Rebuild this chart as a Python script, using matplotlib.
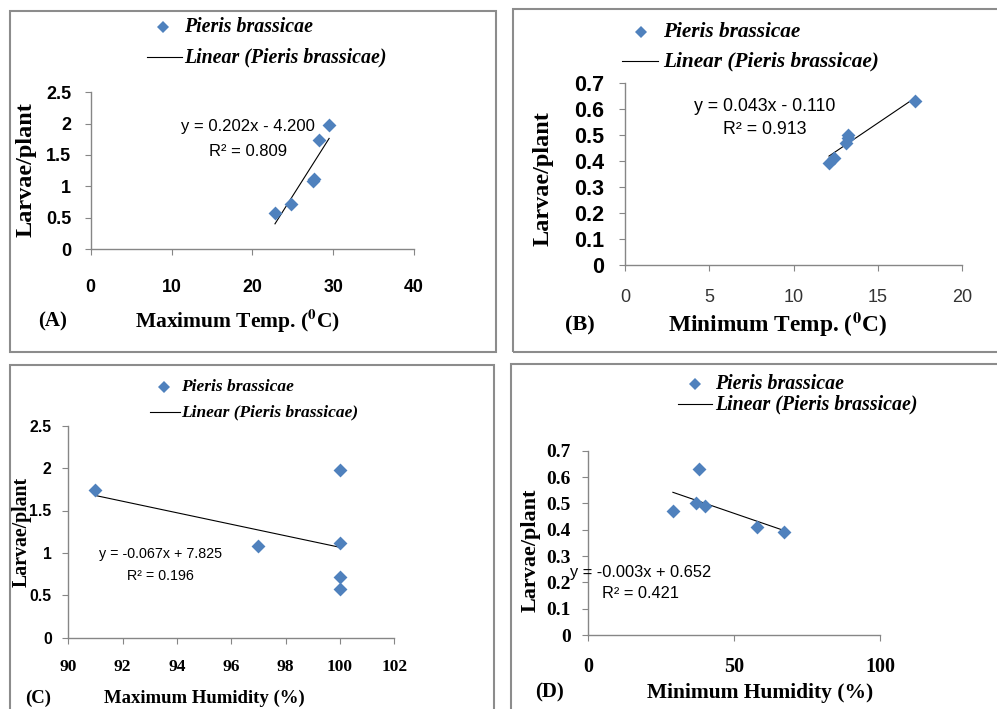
import numpy as np
import matplotlib
matplotlib.use('Agg')
import matplotlib.pyplot as plt
from matplotlib.lines import Line2D
from matplotlib.patches import Rectangle

# dados
max_temp = [22.8, 24.8, 27.5, 27.6, 28.2, 29.5]
larvae_a = [0.58, 0.71, 1.08, 1.12, 1.74, 1.98]

min_temp = [12.1, 12.4, 13.1, 13.2, 13.25, 17.2]
larvae_b = [0.39, 0.41, 0.47, 0.50, 0.49, 0.63]

max_hum = [91, 97, 100, 100, 100, 100]
larvae_c = [1.74, 1.08, 1.98, 1.12, 0.71, 0.58]

min_hum = [29, 37, 38, 40, 58, 67]
larvae_d = [0.47, 0.50, 0.63, 0.49, 0.41, 0.39]

eq_a = ['y = 0.202x - 4.200', 'R² = 0.809']
eq_b = ['y = 0.043x - 0.110', 'R² = 0.913']
eq_c = ['y = -0.067x + 7.825', 'R² = 0.196']
eq_d = ['y = -0.003x + 0.652', 'R² = 0.421']

xticks_a = [0, 10, 20, 30, 40]
yticks_a = [0, 0.5, 1, 1.5, 2, 2.5]
xticks_b = [0, 5, 10, 15, 20]
yticks_b = [0, 0.1, 0.2, 0.3, 0.4, 0.5, 0.6, 0.7]
xticks_c = [90, 92, 94, 96, 98, 100, 102]
yticks_c = [0, 0.5, 1, 1.5, 2, 2.5]
xticks_d = [0, 50, 100]
yticks_d = [0, 0.1, 0.2, 0.3, 0.4, 0.5, 0.6, 0.7]

plt.rcParams['mathtext.fontset'] = 'stix'

W, H = 997, 709
fig = plt.figure(figsize=(W / 100, H / 100), dpi=100)
fig.patch.set_facecolor('white')

BLUE = '#4f81bd'
GRAY = '#868686'
SERIF = 'Liberation Serif'
SANS = 'Liberation Sans'


def fx(x):
    return x / W


def fy(y):
    return 1 - y / H


def txt(x, y, s, **kw):
    fig.text(fx(x), fy(y), s, ha=kw.pop('ha', 'center'), va=kw.pop('va', 'center'), **kw)


def fmt(v):
    return ('%g' % v)


# molduras dos paineis
for (x0, y0, x1, y1) in [(10, 11, 496, 352), (513, 9, 1010, 352),
                         (9.5, 364.5, 494, 720), (510.5, 363.5, 1010, 720)]:
    fig.patches.append(Rectangle((fx(x0), fy(y1)), (x1 - x0) / W, (y1 - y0) / H,
                                 transform=fig.transFigure, fill=False,
                                 edgecolor='#8c8c8c', linewidth=1.5))


def panel(box, xs, ys, xticks, yticks, eq, eq_pos, eq_size,
          xtick_font, ytick_font, xpad, ypad):
    x0, x1, yb, yt = box
    ax = fig.add_axes([fx(x0), fy(yb), (x1 - x0) / W, (yb - yt) / H])
    ax.set_facecolor('none')
    ax.scatter(xs, ys, marker='D', s=50, color=BLUE, zorder=3, linewidths=0)
    # linha de tendencia linear
    k, b = np.polyfit(xs, ys, 1)
    xl = np.array([min(xs), max(xs)])
    ax.plot(xl, k * xl + b, color='black', lw=0.8, zorder=2)
    ax.set_xlim(xticks[0], xticks[-1])
    ax.set_ylim(yticks[0], yticks[-1])
    ax.set_xticks(xticks)
    ax.set_yticks(yticks)
    ax.set_xticklabels([fmt(v) for v in xticks], **xtick_font)
    ax.set_yticklabels([fmt(v) for v in yticks], **ytick_font)
    for s in ['top', 'right']:
        ax.spines[s].set_visible(False)
    for s in ['left', 'bottom']:
        ax.spines[s].set_color(GRAY)
        ax.spines[s].set_linewidth(1.0)
    ax.tick_params(axis='x', direction='out', length=4, color=GRAY, pad=xpad)
    ax.tick_params(axis='y', direction='out', length=4, color=GRAY, pad=ypad)
    txt(eq_pos[0], eq_pos[1], eq[0], family=SANS, fontsize=eq_size)
    txt(eq_pos[0], eq_pos[2], eq[1], family=SANS, fontsize=eq_size)
    return ax


def legend(mx, my, lx0, lx1, ly, tx, size):
    fig.lines.append(Line2D([fx(mx)], [fy(my)], marker='D', markersize=6.5,
                            color=BLUE, markeredgewidth=0, transform=fig.transFigure))
    fig.lines.append(Line2D([fx(lx0), fx(lx1)], [fy(ly), fy(ly)], color='black',
                            lw=0.8, transform=fig.transFigure))
    txt(tx, my, 'Pieris brassicae', ha='left', family=SERIF, style='italic',
        weight='bold', fontsize=size)
    txt(tx, ly, 'Linear (Pieris brassicae)', ha='left', family=SERIF,
        style='italic', weight='bold', fontsize=size)


# (A)
panel((90.7, 414, 249, 92.3), max_temp, larvae_a, xticks_a, yticks_a, eq_a,
      (248, 126.7, 151.7), 12,
      dict(family=SANS, weight='bold', fontsize=12.8),
      dict(family=SANS, weight='bold', fontsize=13), 17.5, 10)
legend(163, 27, 146.7, 181.7, 57, 184, 14.3)
txt(26, 170, 'Larvae/plant', rotation=90, family=SERIF, weight='bold', fontsize=17.5)
txt(237.5, 321, r'Maximum Temp. ($^{\mathbf{0}}$C)', family=SERIF, weight='bold', fontsize=15.5)
txt(53, 321, '(A)', family=SERIF, weight='bold', fontsize=15)

# (B)
panel((625.3, 962, 264.7, 83), min_temp, larvae_b, xticks_b, yticks_b, eq_b,
      (764.7, 106.7, 130), 12.8,
      dict(family=SANS, fontsize=13, color='#333333'),
      dict(family=SANS, weight='bold', fontsize=15.5), 13.5, 11)
legend(640.7, 32.3, 621.7, 658.3, 61, 662.7, 15.3)
txt(542.7, 179, 'Larvae/plant', rotation=90, family=SERIF, weight='bold', fontsize=17.5)
txt(777.8, 325, r'Minimum Temp. ($^{\mathbf{0}}$C)', family=SERIF, weight='bold', fontsize=16.8)
txt(580.3, 325, '(B)', family=SERIF, weight='bold', fontsize=16)

# (C)
panel((68.3, 394.3, 637.7, 425.7), max_hum, larvae_c, xticks_c, yticks_c, eq_c,
      (160.3, 554.3, 575.7), 10.3,
      dict(family=SERIF, weight='bold', fontsize=12.5),
      dict(family=SANS, weight='bold', fontsize=11.3), 11, 8)
legend(164, 387.3, 150, 180, 412.3, 181, 12.5)
txt(21.7, 531.7, 'Larvae/plant', rotation=90, family=SERIF, weight='bold', fontsize=14.3)
txt(204.5, 698.5, 'Maximum Humidity (%)', family=SERIF, weight='bold', fontsize=13.5)
txt(38.3, 698.5, '(C)', family=SERIF, weight='bold', fontsize=13.5)

# (D)
panel((588.3, 880, 635, 450.7), min_hum, larvae_d, xticks_d, yticks_d, eq_d,
      (640.7, 572.3, 593.7), 11.8,
      dict(family=SERIF, weight='bold', fontsize=14.5),
      dict(family=SERIF, weight='bold', fontsize=14), 11.5, 8.4)
legend(695, 384.3, 677.7, 711.7, 404.3, 715, 14.3)
txt(530.7, 550, 'Larvae/plant', rotation=90, family=SERIF, weight='bold', fontsize=16)
txt(760, 692.7, 'Minimum Humidity (%)', family=SERIF, weight='bold', fontsize=15.5)
txt(550, 692.7, '(D)', family=SERIF, weight='bold', fontsize=15)

fig.savefig('out.png', dpi=100, facecolor='white')
